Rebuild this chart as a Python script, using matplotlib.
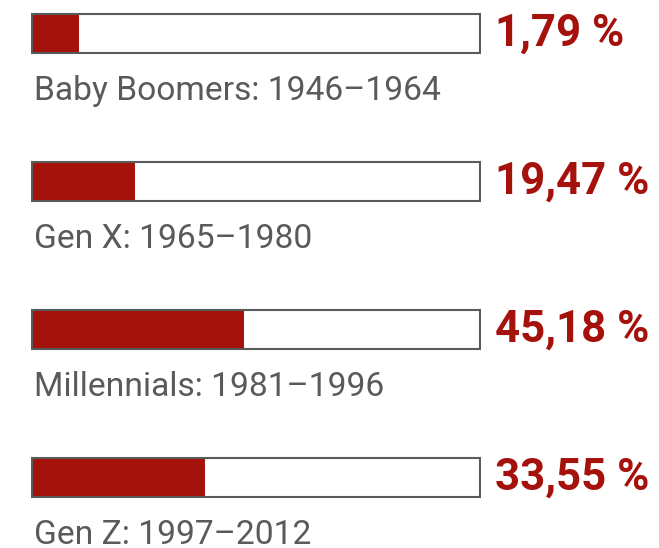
import matplotlib
matplotlib.use('Agg')
import matplotlib.pyplot as plt

# Generationen und Anteile
labels = ['Baby Boomers: 1946\u20131964', 'Gen X: 1965\u20131980',
          'Millennials: 1981\u20131996', 'Gen Z: 1997\u20132012']
values = ['1,79 %', '19,47 %', '45,18 %', '33,55 %']
# Füllstand der Balken (in % der Balkenlänge, aus dem Bild gelesen)
fill = [10.5, 23.0, 47.3, 38.7]

red = '#a5110b'
grey = '#5a5a5a'

fig = plt.figure(figsize=(6.59, 5.48), dpi=100)
ax = fig.add_axes([31/659, 0, 450/659, 1])

y = list(range(len(labels)))
ax.barh(y, fill, height=0.262, color=red, left=0)
ax.barh(y, [100]*len(y), height=0.262, facecolor='none', edgecolor=grey, linewidth=1.5)

for i in y:
    ax.text(0.4, i + 0.45, labels[i], ha='left', va='baseline', fontsize=24.2,
            color=grey, family='Roboto')
    ax.annotate(values[i], xy=(100, i), xytext=(11, 0), textcoords='offset points',
                ha='left', va='center', fontsize=31.5, color=red,
                family='Roboto', fontweight='bold', annotation_clip=False)

ax.set_xlim(-0.3, 100.3)
ax.set_ylim(3.476, -0.226)
ax.axis('off')

plt.savefig('out.png', dpi=100)
